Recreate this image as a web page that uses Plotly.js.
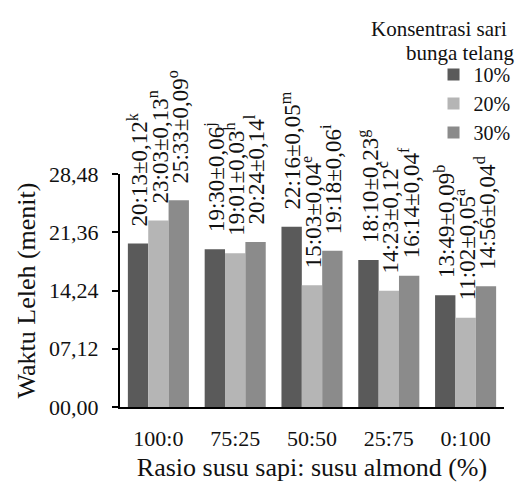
<!DOCTYPE html>
<html>
<head>
<meta charset="utf-8">
<script src="https://cdn.plot.ly/plotly-3.0.1.min.js"></script>
<style>
  html, body { margin: 0; padding: 0; background: #fff; }
  #chart { width: 527px; height: 482px; }
</style>
</head>
<body>
<div id="chart"></div>
<script>
// Categories (x axis)
const categories = ["100:0", "75:25", "50:50", "25:75", "0:100"];

// Series names
const seriesNames = ["10%", "20%", "30%"];

// Melting time (mm:ss) per series
const time10 = ["20:13", "19:30", "22:16", "18:10", "13:49"];
const time20 = ["23:03", "19:01", "15:03", "14:23", "11:02"];
const time30 = ["25:33", "20:24", "19:18", "16:14", "14:56"];

// Standard deviations (as printed)
const sd10 = ["0,12", "0,06", "0,05", "0,23", "0,09"];
const sd20 = ["0,13", "0,03", "0,04", "0,12", "0,05"];
const sd30 = ["0,09", "0,14", "0,06", "0,04", "0,04"];

// Significance letters
const sig10 = ["k", "j", "m", "g", "b"];
const sig20 = ["n", "h", "e", "c", "a"];
const sig30 = ["o", "l", "i", "f", "d"];

// Y axis ticks (minutes) and their printed labels
const yTickVals = [0, 7.2, 14.4, 21.6, 28.8];
const yTickText = ["00,00", "07,12", "14,24", "21,36", "28,48"];

const colors = ["#5a5a5a", "#b5b5b5", "#8b8b8b"];
const FONT = "'Liberation Serif', 'Times New Roman', Times, serif";

function toMinutes(t) {
  const p = t.split(":");
  return Number(p[0]) + Number(p[1]) / 60;
}

const times = [time10, time20, time30];
const sds = [sd10, sd20, sd30];
const sigs = [sig10, sig20, sig30];

const BARGAP = 0.205;
const barW = (1 - BARGAP) / 3;

const traces = times.map((arr, s) => ({
  type: "bar",
  name: seriesNames[s],
  x: categories,
  y: arr.map(toMinutes),
  marker: { color: colors[s], line: { width: 0 } },
  hoverinfo: "none"
}));

const annotations = [];
times.forEach((arr, s) => {
  arr.forEach((t, i) => {
    annotations.push({
      xref: "x", yref: "y",
      x: i + (s - 1) * barW,
      y: toMinutes(t),
      text: t + "±" + sds[s][i] + "<sup>" + sigs[s][i] + "</sup>",
      textangle: -90,
      showarrow: false,
      xanchor: "center",
      yanchor: "bottom",
      yshift: 15,
      font: { family: FONT, size: 23, color: "#111" }
    });
  });
});

// Legend title lines
annotations.push({
  xref: "paper", yref: "paper", x: (521 - 120) / 396, y: (407 - 15) / 233,
  xanchor: "right", yanchor: "top", showarrow: false,
  text: "Konsentrasi sari", font: { family: FONT, size: 21, color: "#111" }
});
annotations.push({
  xref: "paper", yref: "paper", x: (528 - 120) / 396, y: (407 - 39) / 233,
  xanchor: "right", yanchor: "top", showarrow: false,
  text: "bunga telang", font: { family: FONT, size: 21, color: "#111" }
});

const layout = {
  width: 527, height: 482,
  margin: { l: 120, r: 11, t: 174, b: 75, pad: 0 },
  paper_bgcolor: "#fff", plot_bgcolor: "#fff",
  font: { family: FONT, color: "#111" },
  barmode: "group",
  bargap: BARGAP,
  bargroupgap: 0,
  showlegend: true,
  legend: {
    x: 1.03, xanchor: "right",
    y: (407 - 55) / 233, yanchor: "top",
    bgcolor: "rgba(0,0,0,0)",
    borderwidth: 0,
    font: { family: FONT, size: 20, color: "#111" },
    itemclick: false, itemdoubleclick: false,
    tracegroupgap: 0
  },
  xaxis: {
    type: "category",
    range: [-0.5, 4.5],
    showline: true, linecolor: "#000", linewidth: 2,
    ticks: "", showgrid: false, zeroline: false,
    tickfont: { family: FONT, size: 22, color: "#111" },
    ticklabelstandoff: 11,
    title: {
      text: "Rasio susu sapi: susu almond (%)",
      font: { family: FONT, size: 26, color: "#111" },
      standoff: 7
    },
    automargin: false
  },
  yaxis: {
    range: [0, 28.8],
    tickvals: yTickVals, ticktext: yTickText,
    showline: true, linecolor: "#000", linewidth: 2,
    ticks: "outside", ticklen: 6, tickwidth: 2, tickcolor: "#000",
    showgrid: false, zeroline: false,
    tickfont: { family: FONT, size: 22, color: "#111" },
    ticklabelstandoff: 9,
    title: {
      text: "Waktu Leleh (menit)",
      font: { family: FONT, size: 26, color: "#111" },
      standoff: 6
    },
    automargin: false
  },
  annotations: annotations
};

Plotly.newPlot("chart", traces, layout, { displayModeBar: false, staticPlot: true });
</script>
</body>
</html>
